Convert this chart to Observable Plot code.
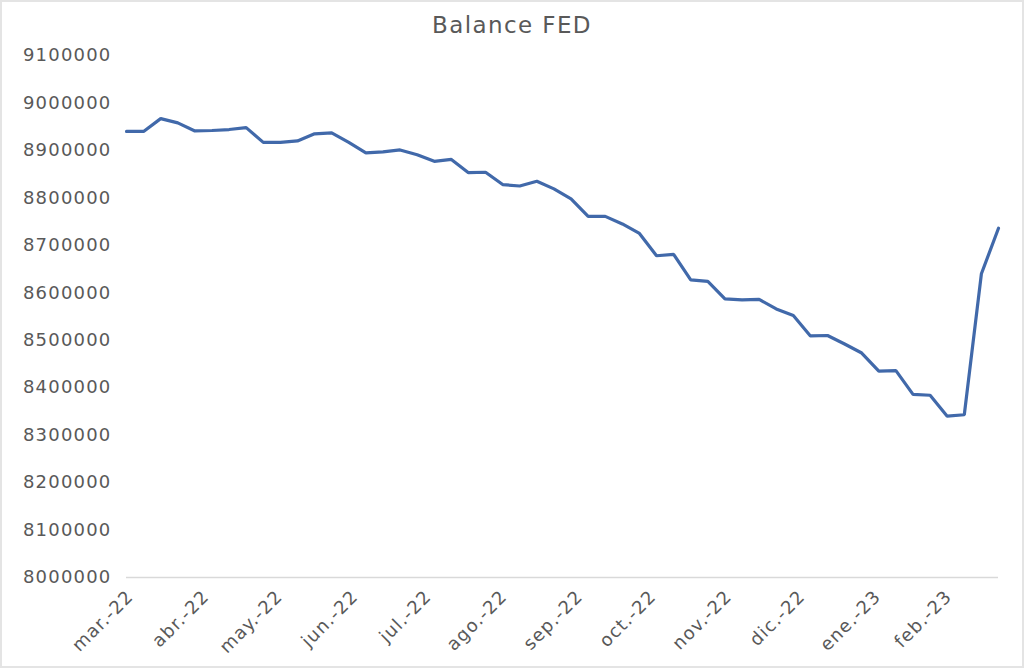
<!DOCTYPE html>
<html><head><meta charset="utf-8">
<script src="https://cdn.jsdelivr.net/npm/d3@7"></script>
<script src="https://cdn.jsdelivr.net/npm/@observablehq/plot@0.6"></script>
<style>
html,body{margin:0;padding:0;background:#fff;}
#wrap{position:relative;width:1024px;height:668px;overflow:hidden;font-family:"DejaVu Sans",sans-serif;background:#fff;}
#title{height:45px;line-height:50px;text-align:center;font-size:23px;color:#595959;letter-spacing:1.4px;}
#chart svg{display:block;}
#frame{position:absolute;left:0;top:0;width:1024px;height:668px;box-sizing:border-box;border:2px solid #e4e4e4;pointer-events:none;}
</style></head><body>
<div id="wrap"><div id="title">Balance FED</div><div id="chart"></div><div id="frame"></div></div>
<script>
const dates = [
  "2022-03-30","2022-04-06","2022-04-13","2022-04-20","2022-04-27","2022-05-04","2022-05-11","2022-05-18",
  "2022-05-25","2022-06-01","2022-06-08","2022-06-15","2022-06-22","2022-06-29","2022-07-06","2022-07-13",
  "2022-07-20","2022-07-27","2022-08-03","2022-08-10","2022-08-17","2022-08-24","2022-08-31","2022-09-07",
  "2022-09-14","2022-09-21","2022-09-28","2022-10-05","2022-10-12","2022-10-19","2022-10-26","2022-11-02",
  "2022-11-09","2022-11-16","2022-11-23","2022-11-30","2022-12-07","2022-12-14","2022-12-21","2022-12-28",
  "2023-01-04","2023-01-11","2023-01-18","2023-01-25","2023-02-01","2023-02-08","2023-02-15","2023-02-22",
  "2023-03-01","2023-03-08","2023-03-15","2023-03-22"
];
const values = [
  8940000, 8940000, 8967000, 8958000, 8941000, 8942000, 8944000, 8948000,
  8917000, 8917000, 8920000, 8935000, 8937000, 8917000, 8895000, 8897000,
  8901000, 8891000, 8877000, 8881000, 8853000, 8854000, 8828000, 8825000,
  8835000, 8819000, 8798000, 8761000, 8761000, 8745000, 8725000, 8678000,
  8681000, 8627000, 8624000, 8587000, 8585000, 8586000, 8566000, 8552000,
  8509000, 8510000, 8492000, 8473000, 8435000, 8436000, 8386000, 8384000,
  8340000, 8343000, 8640000, 8736000
];
const tickDates = [
  "2022-03-30","2022-04-30","2022-05-30","2022-06-30","2022-07-30","2022-08-30",
  "2022-09-30","2022-10-30","2022-11-30","2022-12-30","2023-01-30","2023-02-28"
];
const tickLabels = [
  "mar.-22","abr.-22","may.-22","jun.-22","jul.-22","ago.-22",
  "sep.-22","oct.-22","nov.-22","dic.-22","ene.-23","feb.-23"
];
const yTicks = [8000000, 8100000, 8200000, 8300000, 8400000, 8500000, 8600000, 8700000, 8800000, 8900000, 9000000, 9100000];

const data = dates.map((d, i) => ({date: new Date(d), value: values[i]}));
const tickDateObjs = tickDates.map(d => new Date(d));

const chart = Plot.plot({
  width: 1024, height: 623,
  marginTop: 10, marginBottom: 91, marginLeft: 126, marginRight: 26,
  style: {fontFamily: '"DejaVu Sans", sans-serif', fontSize: "18px", color: "#595959", background: "white", letterSpacing: "1.2px"},
  x: {
    type: "utc",
    domain: [data[0].date, data[data.length - 1].date]
  },
  y: {
    domain: [8000000, 9100000]
  },
  marks: [
    Plot.axisX({
      ticks: tickDateObjs,
      tickFormat: d => tickLabels[tickDateObjs.findIndex(t => +t === +d)],
      tickRotate: -45, tickSize: 0, tickPadding: 8, dx: 4, dy: 8, label: null
    }),
    Plot.axisY({
      ticks: yTicks,
      tickFormat: d => String(d),
      tickSize: 0, tickPadding: 15, label: null
    }),
    Plot.ruleY([8000000], {stroke: "#d9d9d9", strokeWidth: 1.5}),
    Plot.lineY(data, {x: "date", y: "value", stroke: "#4169aa", strokeWidth: 3.2, strokeLinejoin: "miter"})
  ]
});
document.getElementById("chart").appendChild(chart);
</script>
</body></html>
